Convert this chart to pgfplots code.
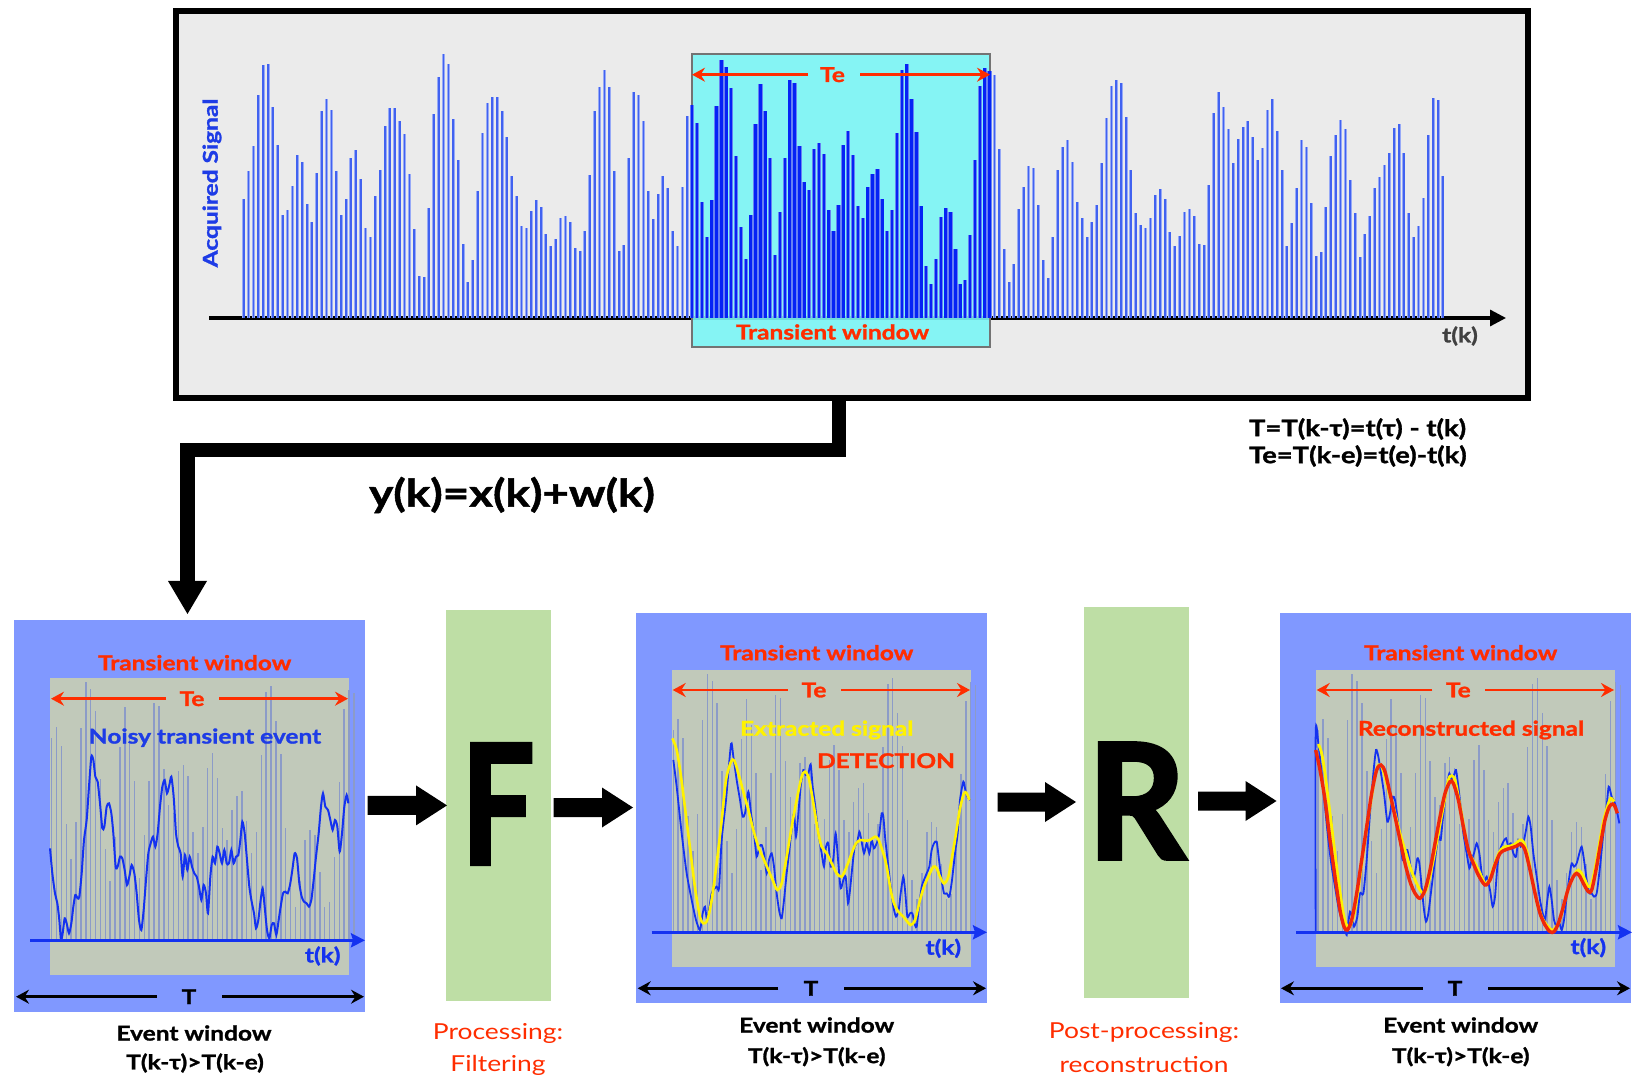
\documentclass[border=0pt]{standalone}
\usepackage{fontspec}
\setmainfont{Lato}[FakeStretch=1.2, BoldFeatures={FakeBold=1.3}]
\newfontfamily\bigfont{Lato}[BoldFeatures={FakeBold=2.5}]
\usepackage{pgfplots}
\pgfplotsset{compat=1.18}
\usepackage{pgfplotstable}
\usetikzlibrary{arrows.meta}
\definecolor{framegray}{RGB}{235,235,235}
\definecolor{cyanfill}{RGB}{122,245,245}
\definecolor{barblue}{RGB}{65,98,240}
\definecolor{bardark}{RGB}{5,35,245}
\definecolor{tered}{RGB}{255,45,0}
\definecolor{textblue}{RGB}{30,60,230}
\definecolor{panelblue}{RGB}{128,152,255}
\definecolor{panelgrey}{RGB}{193,201,186}
\definecolor{panelbar}{RGB}{140,155,200}
\definecolor{curveblue}{RGB}{20,50,240}
\definecolor{ylw}{RGB}{255,242,0}
\definecolor{redc}{RGB}{240,40,10}
\definecolor{greenbox}{RGB}{190,222,165}
\definecolor{tkgray}{RGB}{64,64,64}
\newcommand\bft{\fontsize{10.2}{12}\selectfont\bfseries}
\newcommand\rgt{\fontsize{11}{13}\selectfont}
\pgfplotstableread[row sep=\\]{h\\118.7\\147.3\\172.3\\222.7\\253.3\\254\\211.3\\173.3\\102.7\\107.7\\132.3\\162.7\\156\\114.3\\95.7\\144.7\\206.7\\218.7\\207.7\\147.3\\102.7\\118.7\\159.7\\168.3\\139\\90.3\\80.7\\121.7\\148.3\\192.3\\210.3\\210.3\\196.7\\183.7\\143.7\\89.3\\41.7\\40.7\\110.3\\203.7\\240.7\\264.3\\253.7\\198.7\\157.7\\74\\36\\58\\126.7\\185.3\\215\\220.7\\220.7\\207.3\\180.7\\142.3\\122.3\\92.3\\89.7\\107.3\\117.7\\111\\83.7\\72\\78.7\\99.7\\102.3\\95.7\\70.3\\67.3\\86.7\\143.3\\206.7\\231.3\\248.3\\231.3\\147.3\\66.7\\73\\160.3\\226.3\\222.7\\196.7\\127.3\\99.3\\124.3\\142.3\\130.3\\86.7\\72.3\\131.3\\202\\213.3\\194.7\\116.3\\81\\118.3\\212.3\\258\\251.3\\229.7\\161.7\\91\\59.3\\103.3\\193.7\\233.7\\207.3\\159.7\\62.7\\105.7\\159.7\\237.7\\234.7\\171.7\\135.7\\127.7\\169.3\\175.3\\164\\108.3\\87.3\\113\\172.7\\187\\162.7\\112.3\\100.3\\130.7\\144.3\\149.3\\119\\87.3\\108.3\\185\\248.3\\254\\219.3\\186\\112.3\\52\\33.7\\59.3\\100.7\\110.3\\105.7\\68.7\\33.7\\38.3\\83.3\\158\\231.7\\250.3\\247.3\\242.7\\169.3\\69.3\\36\\54\\109\\131\\152\\150.3\\113\\58\\40\\80.7\\148.3\\171\\177.7\\156\\115.7\\99.7\\80.7\\95.7\\113\\155\\199.7\\232\\237.7\\235\\200.7\\148.3\\105.3\\93\\90.3\\99.7\\122.7\\129.3\\119.3\\86.3\\72\\81.7\\106.3\\109\\101.7\\73.7\\73\\133\\205.3\\225.7\\211\\189\\155.3\\178.7\\191\\196.7\\180.7\\158\\170.3\\208\\218.7\\187.3\\148.3\\72\\95\\130\\177.7\\171\\114.7\\62.3\\66.3\\111\\162.3\\182.7\\197.7\\189\\137.7\\105.3\\60.7\\84.3\\102.3\\130\\140.7\\153\\165.3\\190\\194\\165.3\\105.3\\80.7\\92\\119.7\\182.7\\220.3\\217.7\\141.7\\}\sig
\pgfplotsset{
  sigax/.style={hide axis, clip=false, scale only axis, ymin=0, ymax=270, height=135pt, anchor=south west},
  curveax/.style={hide axis, clip=false, scale only axis, xmin=0, ymin=0, ymax=1437, y dir=reverse, height=239.5pt, anchor=north west},
}
\newcommand\fatarrow[3]{\fill[black] (#1,{#3-9.5}) -- ({#2-31},{#3-9.5}) -- ({#2-31},{#3-20}) -- (#2,#3) -- ({#2-31},{#3+20}) -- ({#2-31},{#3+9.5}) -- (#1,{#3+9.5}) -- cycle;}
\tikzset{
  tearr/.style={draw=tered, line width=1.35pt, -{Stealth[length=6.5pt,width=7pt,inset=2.2pt]}},
  tarr/.style={draw=black, line width=1.35pt, -{Stealth[length=6.5pt,width=7pt,inset=2.2pt]}},
  axarr/.style={draw=curveblue, line width=1.5pt, -{Stealth[length=7pt,width=7pt,inset=1pt]}},
}
\begin{document}
\begin{tikzpicture}
\path[use as bounding box] (0,0) rectangle (819pt,-539.5pt);
% ---------- top panel ----------
\begin{scope}[x=0.5pt,y=-0.5pt]
\fill[framegray] (176,11) rectangle (1528,398);
\draw[line width=3pt] (176,11) rectangle (1528,398);
\draw[line width=1.6pt, -{Triangle[length=8pt,width=8pt]}] (209,318) -- (1506,318);
\fill[cyanfill, opacity=0.9] (691.5,54) rectangle (990,347);
\draw[gray!90!black, line width=1pt] (691.5,54) rectangle (990,347);
\end{scope}
\begin{axis}[sigax, xmin=-1, xmax=247, width=604.5pt, at={(119.4pt,-159pt)}]
\addplot[ycomb, draw=barblue!55, line width=1.5pt, no marks, restrict x to domain=0:91] table[x expr=\coordindex, y=h]{\sig};
\addplot[ycomb, draw=barblue!55, line width=1.5pt, no marks, restrict x to domain=154:246] table[x expr=\coordindex, y=h]{\sig};
\addplot[ycomb, draw=barblue, line width=0.9pt, no marks, restrict x to domain=0:91] table[x expr=\coordindex, y=h]{\sig};
\addplot[ycomb, draw=barblue, line width=0.9pt, no marks, restrict x to domain=154:246] table[x expr=\coordindex, y=h]{\sig};
\addplot[ycomb, draw=barblue!80, line width=2.1pt, no marks, restrict x to domain=92:153] table[x expr=\coordindex, y=h]{\sig};
\addplot[ycomb, draw=bardark, line width=1.2pt, no marks, restrict x to domain=92:153] table[x expr=\coordindex, y=h]{\sig};
\end{axis}
\begin{scope}[x=0.5pt,y=-0.5pt]
\draw[tearr] (808,74.7) -- (692,74.7);
\draw[tearr] (860,74.7) -- (990,74.7);
\node[text=tered, font=\bft] at (832.5,74.7) {Te};
\node[text=tered, font=\bft] at (832.5,332) {Transient window};
\node[rotate=90, text=textblue, font=\bft] at (212,183) {Acquired Signal};
\node[text=tkgray, font=\bft] at (1460,336) {t(k)};
% connector
\draw[line width=7.3pt, line join=miter] (839,398) -- (839,450) -- (187.5,450) -- (187.5,585);
\fill (168,581) -- (207,581) -- (187.5,614) -- cycle;
\node[font=\fontsize{19}{21}\selectfont\bfseries] at (512,495) {y(k)=x(k)+w(k)};
\node[font=\fontsize{11.4}{13}\selectfont\bfseries, anchor=west] at (1242,429) {T=T(k-τ)=t(τ) - t(k)};
\node[font=\fontsize{11.4}{13}\selectfont\bfseries, anchor=west] at (1242,456) {Te=T(k-e)=t(e)-t(k)};
% ---------- panel backgrounds ----------
\fill[panelblue] (14,620) rectangle (365,1011.5);
\fill[panelgrey] (50,678) rectangle (349,975);
\fill[panelblue] (636,612.5) rectangle (986.5,1003.3);
\fill[panelgrey] (671.7,670) rectangle (971,966.7);
\fill[panelblue] (1280,612.5) rectangle (1631,1003.3);
\fill[panelgrey] (1315.7,670) rectangle (1615,966.7);
\fill[greenbox] (446,610) rectangle (550.5,1000.7);
\fill[greenbox] (1084,607) rectangle (1189,997.6);
\end{scope}
% panel bars
\begin{axis}[sigax, xmin=81, xmax=163, width=199.875pt, at={(1.475pt,-470.15pt)}]
\addplot[ycomb, draw=panelbar, line width=0.75pt, no marks, restrict x to domain=91:153] table[x expr=\coordindex, y=h]{\sig};
\end{axis}
\begin{axis}[sigax, xmin=81, xmax=163, width=199.875pt, at={(312.275pt,-466.15pt)}]
\addplot[ycomb, draw=panelbar, line width=0.75pt, no marks, restrict x to domain=91:153] table[x expr=\coordindex, y=h]{\sig};
\end{axis}
\begin{axis}[sigax, xmin=81, xmax=163, width=199.875pt, at={(634.625pt,-466.15pt)}]
\addplot[ycomb, draw=panelbar, line width=0.75pt, no marks, restrict x to domain=91:153] table[x expr=\coordindex, y=h]{\sig};
\end{axis}
% axis arrows
\begin{scope}[x=0.5pt,y=-0.5pt]
\draw[axarr] (30,940.3) -- (365,940.3);
\draw[axarr] (651.7,932.3) -- (987,932.3);
\draw[axarr] (1296,932.3) -- (1632,932.3);
\end{scope}
% panel 1 curve
\begin{axis}[curveax, xmax=1140, width=190pt, at={(0pt,-300pt)}]
\addplot[curveblue, line width=1pt, smooth, tension=0.4, no marks] coordinates {(150,745) (157,820) (165,880) (172,910) (178,960) (183,1020) (188,1000) (194,955) (200,970) (207,1000) (214,970) (220,920) (226,885) (233,895) (238,890) (245,820) (252,720) (260,660) (267,560) (274,470) (280,480) (286,530) (293,545) (300,610) (307,685) (313,680) (320,620) (327,610) (334,640) (340,700) (347,800) (353,800) (360,770) (367,775) (374,810) (381,855) (388,830) (395,795) (403,820) (410,880) (417,960) (424,990) (431,930) (438,840) (445,760) (452,730) (459,710) (466,740) (473,700) (480,620) (487,560) (494,540) (501,580) (508,555) (514,530) (521,590) (528,700) (535,740) (542,760) (548,830) (555,765) (562,810) (569,770) (576,800) (583,820) (590,830) (597,860) (604,900) (611,855) (618,880) (624,940) (631,830) (638,770) (645,790) (652,740) (659,760) (666,790) (673,750) (680,790) (687,790) (694,750) (701,790) (708,770) (715,765) (721,720) (727,665) (734,700) (741,780) (748,860) (755,905) (762,940) (768,985) (775,960) (782,900) (788,865) (794,920) (801,990) (808,1015) (815,975) (822,970) (829,1005) (836,960) (842,920) (849,880) (856,875) (863,880) (870,855) (877,810) (884,760) (891,775) (898,850) (905,890) (912,905) (920,910) (927,920) (934,900) (941,840) (948,770) (956,700) (963,620) (969,580) (976,620) (984,630) (991,660) (998,690) (1005,660) (1012,680) (1019,755) (1026,700) (1033,620) (1040,585) (1045,610)};
\end{axis}
% panel 2 curves
\begin{axis}[curveax, xmax=1140, width=190pt, at={(310pt,-300pt)}]
\addplot[curveblue, line width=0.9pt, smooth, tension=0.4, no marks] coordinates {(160,480) (170,560) (185,700) (200,820) (215,900) (228,960) (240,990) (248,940) (255,920) (262,960) (275,880) (290,860) (297,865) (305,720) (318,600) (333,432) (340,470) (350,540) (360,600) (368,650) (375,640) (385,575) (393,640) (402,700) (410,770) (418,740) (425,735) (432,760) (440,820) (447,780) (455,760) (462,800) (470,880) (478,935) (485,955) (492,900) (500,820) (508,750) (516,680) (522,640) (528,710) (535,640) (542,560) (550,510) (557,525) (565,520) (572,493) (578,560) (586,620) (595,700) (605,760) (612,800) (618,740) (625,730) (632,800) (640,775) (647,700) (655,790) (662,865) (670,840) (677,830) (684,910) (690,870) (697,800) (704,740) (711,730) (718,695) (724,720) (732,760) (740,730) (748,760) (755,720) (762,745) (770,730) (778,700) (785,640) (790,650) (796,720) (805,800) (812,860) (820,920) (828,950) (836,930) (842,880) (850,830) (856,880) (862,950) (870,940) (877,940) (885,975) (890,980) (897,920) (905,860) (912,840) (920,820) (928,800) (935,750) (942,730) (950,725) (957,780) (965,840) (972,880) (980,880) (988,890) (996,840) (1005,760) (1013,700) (1020,600) (1030,545) (1036,570) (1042,590) (1050,600)};
\addplot[ylw, line width=1.3pt, smooth, tension=0.5, no marks] coordinates {(157,415) (170,450) (183,530) (197,640) (212,760) (226,870) (240,950) (250,970) (262,960) (275,900) (290,790) (305,660) (318,540) (333,485) (343,482) (355,520) (370,575) (385,630) (400,690) (415,740) (430,775) (445,810) (460,845) (472,870) (485,850) (500,770) (515,680) (530,600) (545,530) (555,515) (565,530) (575,580) (585,640) (595,700) (605,740) (620,760) (635,790) (650,820) (665,830) (680,800) (695,760) (708,730) (722,720) (735,722) (750,720) (765,710) (775,718) (790,760) (800,800) (812,870) (822,910) (835,935) (850,950) (862,965) (872,975) (885,960) (900,900) (912,860) (925,830) (940,800) (950,805) (960,830) (972,850) (985,830) (998,760) (1008,700) (1020,625) (1032,580) (1040,580) (1048,600)};
\end{axis}
% panel 3 curves
\begin{axis}[curveax, xmax=1104, width=184pt, at={(635pt,-300pt)}]
\addplot[curveblue, line width=0.9pt, smooth, tension=0.4, no marks] coordinates {(137,995) (137,400) (145,430) (155,520) (165,620) (175,720) (185,800) (195,860) (205,920) (215,960) (225,985) (230,1005) (236,960) (240,935) (246,950) (252,980) (262,950) (270,880) (280,880) (290,780) (300,640) (310,520) (318,450) (325,470) (333,520) (342,580) (352,665) (360,640) (368,590) (375,600) (382,650) (390,720) (398,780) (405,760) (412,750) (420,790) (428,830) (435,820) (442,775) (448,790) (455,860) (462,930) (468,965) (475,940) (485,860) (495,780) (505,710) (512,720) (518,660) (525,600) (532,550) (538,520) (545,540) (552,525) (558,510) (565,560) (572,620) (580,700) (590,760) (598,805) (605,780) (612,760) (620,730) (628,760) (635,820) (642,850) (650,830) (660,870) (668,920) (675,890) (682,800) (690,750) (700,725) (708,715) (715,740) (722,730) (730,760) (738,770) (745,720) (752,740) (760,730) (768,690) (775,650) (782,680) (790,760) (800,830) (810,900) (818,940) (825,960) (832,900) (838,860) (845,900) (852,960) (860,980) (868,970) (875,990) (882,960) (890,890) (898,830) (905,790) (912,800) (920,790) (928,760) (935,740) (942,780) (950,840) (958,880) (965,880) (972,890) (980,880) (990,800) (1000,700) (1008,640) (1016,560) (1025,590) (1035,610) (1042,640) (1048,670)};
\addplot[ylw, line width=1.4pt, smooth, tension=0.5, no marks] coordinates {(145,432) (155,460) (165,520) (175,600) (190,720) (205,840) (220,940) (232,980) (242,975) (255,930) (270,830) (285,720) (300,620) (315,530) (325,495) (335,500) (345,530) (360,590) (375,640) (390,700) (405,750) (420,800) (435,840) (450,870) (462,880) (475,850) (490,780) (505,700) (520,620) (535,540) (545,527) (555,540) (565,590) (578,660) (590,730) (600,765) (615,790) (630,820) (645,850) (655,845) (668,810) (680,775) (692,750) (705,740) (720,738) (735,733) (750,720) (760,725) (772,760) (785,830) (800,900) (815,950) (830,975) (845,990) (855,985) (870,960) (885,900) (900,850) (915,820) (925,810) (935,820) (945,840) (955,860) (965,850) (978,790) (990,720) (1000,665) (1012,620) (1022,595) (1032,605)};
\addplot[redc, line width=1.7pt, smooth, tension=0.5, no marks] coordinates {(137,450) (150,510) (165,600) (180,720) (195,830) (210,930) (222,980) (232,990) (245,960) (260,880) (275,780) (290,680) (305,580) (320,510) (333,495) (345,515) (360,580) (375,650) (390,720) (405,790) (420,845) (435,880) (450,895) (465,870) (480,810) (495,730) (510,650) (525,580) (540,545) (550,550) (565,600) (580,680) (595,750) (610,790) (625,825) (645,855) (660,840) (675,795) (690,760) (705,750) (720,745) (740,738) (752,732) (765,750) (780,810) (795,880) (810,940) (825,975) (840,995) (852,995) (865,970) (880,920) (895,865) (910,830) (920,820) (930,830) (940,850) (955,875) (965,870) (978,810) (992,730) (1005,660) (1018,620) (1028,612) (1035,620) (1042,640)};
\end{axis}
% ---------- bottom texts and arrows ----------
\begin{scope}[x=0.5pt,y=-0.5pt]
% panel 1
\node[text=tered, font=\bft] at (194.7,662.7) {Transient window};
\draw[tearr] (166,698.7) -- (51,698.7);
\draw[tearr] (219,698.7) -- (348,698.7);
\node[text=tered, font=\bft] at (192,698.7) {Te};
\node[text=textblue, font=\bft] at (205,737.7) {Noisy transient event};
\node[text=curveblue, font=\bft] at (322.7,956) {t(k)};
\draw[tarr] (157,996.7) -- (16,996.7);
\draw[tarr] (222,996.7) -- (364,996.7);
\node[font=\bft] at (189,996.7) {T};
\node[font=\bft] at (194,1033) {Event window};
\node[font=\bft] at (195,1063) {T(k-τ)>T(k-e)};
% panel 2
\node[text=tered, font=\bft] at (816.7,652.7) {Transient window};
\draw[tearr] (787.7,690) -- (672.7,690);
\draw[tearr] (841,690) -- (970,690);
\node[text=tered, font=\bft] at (814,690) {Te};
\node[text=ylw, font=\bft] at (826.7,730) {Extracted signal};
\node[text=tered, font=\bft] at (886,760.7) {DETECTION};
\node[text=curveblue, font=\bft] at (943.3,948.3) {t(k)};
\draw[tarr] (778.3,988.3) -- (637.7,988.3);
\draw[tarr] (844.3,988.3) -- (986,988.3);
\node[font=\bft] at (811,988.3) {T};
\node[font=\bft] at (816.7,1025) {Event window};
\node[font=\bft] at (816.7,1056.7) {T(k-τ)>T(k-e)};
% panel 3
\node[text=tered, font=\bft] at (1460.7,652.7) {Transient window};
\draw[tearr] (1432.3,690) -- (1316.7,690);
\draw[tearr] (1485,690) -- (1614,690);
\node[text=tered, font=\bft] at (1458.3,690) {Te};
\node[text=tered, font=\bft] at (1471,730) {Reconstructed signal};
\node[text=curveblue, font=\bft] at (1588.3,947.7) {t(k)};
\draw[tarr] (1422.7,988.3) -- (1281,988.3);
\draw[tarr] (1488.3,988.3) -- (1630,988.3);
\node[font=\bft] at (1455,988.3) {T};
\node[font=\bft] at (1460.7,1025) {Event window};
\node[font=\bft] at (1460.7,1056.7) {T(k-τ)>T(k-e)};
% green boxes text
\node at (498,804) {\scalebox{0.78}[1]{\bigfont\fontsize{83}{90}\selectfont\bfseries F}};
\node at (1136.5,801) {\scalebox{0.95}[1]{\bigfont\fontsize{80}{88}\selectfont\bfseries R}};
\node[text=tered, font=\rgt] at (498,1033) {Processing:};
\node[text=tered, font=\rgt] at (498,1065.5) {Filtering};
\node[text=tered, font=\rgt] at (1144,1032) {Post-processing:};
\node[text=tered, font=\rgt] at (1144,1064.5) {reconstruction};
% fat arrows
\fatarrow{367.7}{447}{805.4}
\fatarrow{553.6}{633}{807.5}
\fatarrow{997.6}{1076}{802}
\fatarrow{1198}{1276.5}{801}
\end{scope}
\end{tikzpicture}
\end{document}
